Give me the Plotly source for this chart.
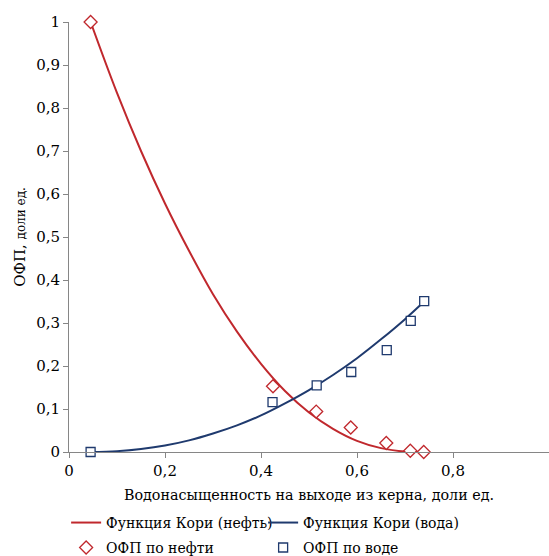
import plotly.graph_objects as go

# Measured relative permeability points
sw_oil = [0.045, 0.425, 0.515, 0.587, 0.661, 0.711, 0.739]
kr_oil = [1.0, 0.153, 0.094, 0.057, 0.021, 0.003, 0.0]
sw_water = [0.045, 0.424, 0.516, 0.588, 0.662, 0.712, 0.740]
kr_water = [0.0, 0.116, 0.155, 0.186, 0.237, 0.305, 0.351]

# Corey curves
curve_oil_x = [0.045, 0.10, 0.15, 0.20, 0.25, 0.30, 0.35, 0.40, 0.45, 0.50, 0.55, 0.60, 0.65, 0.70, 0.73]
curve_oil_y = [1.0, 0.835, 0.700, 0.578, 0.468, 0.367, 0.280, 0.205, 0.142, 0.092, 0.054, 0.026, 0.009, 0.001, 0.0]
curve_water_x = [0.045, 0.10, 0.15, 0.20, 0.25, 0.30, 0.35, 0.40, 0.45, 0.50, 0.55, 0.60, 0.65, 0.70, 0.74]
curve_water_y = [0.0, 0.002, 0.007, 0.015, 0.027, 0.043, 0.062, 0.085, 0.113, 0.144, 0.179, 0.218, 0.262, 0.309, 0.350]

RED = "#C0282D"
BLUE = "#1F3A6E"
FONT = "DejaVu Serif"

fig = go.Figure()
fig.add_trace(go.Scatter(x=curve_oil_x, y=curve_oil_y, mode="lines", line=dict(color=RED, width=2, shape="spline"),
                         name="Функция Кори (нефть)", legend="legend"))
fig.add_trace(go.Scatter(x=curve_water_x, y=curve_water_y, mode="lines", line=dict(color=BLUE, width=2, shape="spline"),
                         name="Функция Кори (вода)", legend="legend"))
fig.add_trace(go.Scatter(x=sw_oil, y=kr_oil, mode="markers", cliponaxis=False,
                         marker=dict(symbol="diamond", size=10, color="white", line=dict(width=1.3, color=RED)),
                         name="ОФП по нефти", legend="legend2"))
fig.add_trace(go.Scatter(x=sw_water, y=kr_water, mode="markers", cliponaxis=False,
                         marker=dict(symbol="square", size=9, color="white", line=dict(width=1.3, color=BLUE)),
                         name="ОФП по воде", legend="legend2"))

axis_common = dict(showgrid=False, zeroline=False, showline=True, linecolor="#868686", linewidth=1,
                   ticks="outside", ticklen=5, tickcolor="#868686",
                   tickfont=dict(family=FONT, size=15, color="#000000"))

legend_common = dict(orientation="h", xanchor="left", yanchor="middle",
                     entrywidth=152, entrywidthmode="pixels", font=dict(family=FONT, size=14),
                     itemwidth=30, tracegroupgap=0, bgcolor="rgba(0,0,0,0)")

fig.update_layout(
    width=549, height=556,
    margin=dict(l=69, r=0, t=22, b=104, autoexpand=False),
    paper_bgcolor="white", plot_bgcolor="white",
    separators=", ",
    font=dict(family=FONT, size=15, color="#000000"),
    xaxis=dict(range=[0, 1], dtick=0.2, tick0=0, title=dict(text="Водонасыщенность на выходе из керна, доли ед.",
               font=dict(family=FONT, size=14.3), standoff=10), **axis_common),
    yaxis=dict(range=[0, 1], dtick=0.1, tick0=0,
               title=dict(text="ОФП, <span style='font-size:12px'>доли ед.</span>", font=dict(family=FONT, size=15), standoff=6),
               **axis_common),
    legend=dict(x=-0.006, y=-0.165, **legend_common),
    legend2=dict(x=-0.006, y=-0.223, **legend_common),
    showlegend=True,
)

fig.write_html("out.html")
